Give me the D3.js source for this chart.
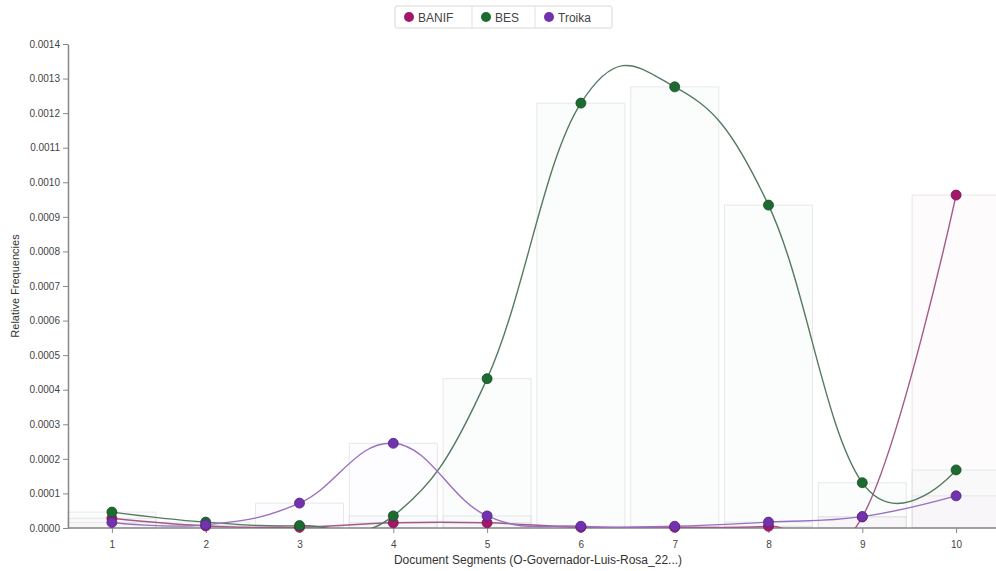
<!DOCTYPE html>
<html>
<head>
<meta charset="utf-8">
<script src="https://cdn.jsdelivr.net/npm/d3@7"></script>
<style>
  body { margin: 0; background: #fff; font-family: "Liberation Sans", Arial, sans-serif; }
  svg { display: block; }
</style>
</head>
<body>
<svg id="chart" width="996" height="571"></svg>
<script>
const segments = ["1","2","3","4","5","6","7","8","9","10"];
const seriesNames = ["BANIF", "BES", "Troika"];
const banif  = [0.000028, 0.000006, 0.000002, 0.000015, 0.000015, 0.000002, 0.000002, 0.000005, 0.000032, 0.000963];
const bes    = [0.000046, 0.000017, 0.000007, 0.000035, 0.000432, 0.001229, 0.001276, 0.000934, 0.000131, 0.000168];
const troika = [0.000016, 0.000009, 0.000072, 0.000245, 0.000035, 0.000005, 0.000005, 0.000017, 0.000033, 0.000093];
const yTicks = [0,0.0001,0.0002,0.0003,0.0004,0.0005,0.0006,0.0007,0.0008,0.0009,0.0010,0.0011,0.0012,0.0013,0.0014];
const colors = ["#a3176b", "#1d6b30", "#7332ad"];
const lineColors = ["#a45a88", "#557a60", "#9870c2"];
const values = [banif, bes, troika];

const svg = d3.select("#chart");
const mLeft = 68, mRight = 1003, mTop = 44, mBottom = 528;

const x = d3.scalePoint().domain(segments).range([mLeft - 3, mRight]).padding(0.5);
const y = d3.scaleLinear().domain([0, 0.0014]).range([mBottom, mTop]);

svg.append("defs").append("clipPath").attr("id", "clip")
  .append("rect").attr("x", mLeft).attr("y", 0).attr("width", 996 - mLeft).attr("height", mBottom);

// bars
const barG = svg.append("g");
values.forEach((vals, si) => {
  barG.selectAll(null).data(vals).enter().append("rect")
    .attr("x", (d, i) => x(segments[i]) - 44)
    .attr("width", 88)
    .attr("y", d => y(d))
    .attr("height", d => mBottom - y(d))
    .attr("fill", colors[si])
    .attr("fill-opacity", 0.014)
    .attr("stroke", "#e2e2e2")
    .attr("stroke-opacity", 0.8)
    .attr("stroke-width", 1);
});

// axes
const yAxis = svg.append("g").attr("transform", `translate(${mLeft},0)`)
  .call(d3.axisLeft(y).tickValues(yTicks).tickFormat(d3.format(".4f")).tickSize(5).tickSizeOuter(0));
yAxis.select(".domain").attr("stroke", "#888").attr("stroke-width", 1.5);
yAxis.selectAll(".tick line").attr("stroke", "#888");
yAxis.selectAll("text").attr("fill", "#444").attr("font-size", 10).attr("font-family", "Liberation Sans, Arial, sans-serif");

const xAxis = svg.append("g").attr("transform", `translate(0,${mBottom})`)
  .call(d3.axisBottom(x).tickSize(5).tickSizeOuter(0));
xAxis.select(".domain").attr("stroke", "#888").attr("stroke-width", 1.5).attr("d", `M${mLeft},0H996`);
xAxis.selectAll(".tick line").attr("stroke", "#888");
xAxis.selectAll("text").attr("fill", "#444").attr("font-size", 10).attr("dy", "1.2em").attr("font-family", "Liberation Sans, Arial, sans-serif");

// axis titles
svg.append("text").attr("x", 538).attr("y", 564).attr("text-anchor", "middle")
  .attr("font-size", 12).attr("fill", "#333").text("Document Segments (O-Governador-Luis-Rosa_22...)");
svg.append("text").attr("transform", `translate(19,${(mTop + mBottom) / 2}) rotate(-90)`)
  .attr("text-anchor", "middle").attr("font-size", 11).attr("fill", "#333").text("Relative Frequencies");

// lines
const line = d3.line()
  .x((d, i) => x(segments[i]))
  .y(d => y(d))
  .curve(d3.curveCardinal.tension(-0.2));
const lineG = svg.append("g").attr("clip-path", "url(#clip)");
values.forEach((vals, si) => {
  lineG.append("path").datum(vals)
    .attr("d", line)
    .attr("fill", "none")
    .attr("stroke", lineColors[si])
    .attr("stroke-width", 1.4);
});

// points
values.forEach((vals, si) => {
  svg.append("g").selectAll("circle").data(vals).enter().append("circle")
    .attr("cx", (d, i) => x(segments[i]))
    .attr("cy", d => y(d))
    .attr("r", 5)
    .attr("fill", colors[si])
    .attr("stroke", d3.color(colors[si]).darker(0.8))
    .attr("stroke-width", 0.8);
});

// legend
const legend = svg.append("g");
const cells = [{x: 395, w: 77}, {x: 472, w: 63}, {x: 535, w: 77}];
legend.append("rect").attr("x", 395).attr("y", 6).attr("width", 217).attr("height", 22)
  .attr("fill", "#fff").attr("stroke", "#d8d8d8").attr("rx", 2);
cells.forEach((c, i) => {
  if (i > 0) legend.append("line").attr("x1", c.x).attr("x2", c.x).attr("y1", 6).attr("y2", 28).attr("stroke", "#e0e0e0");
  legend.append("circle").attr("cx", c.x + 14).attr("cy", 17).attr("r", 5).attr("fill", colors[i]);
  legend.append("text").attr("x", c.x + 23).attr("y", 21.5).attr("font-size", 12).attr("fill", "#444").text(seriesNames[i]);
});
</script>
</body>
</html>
